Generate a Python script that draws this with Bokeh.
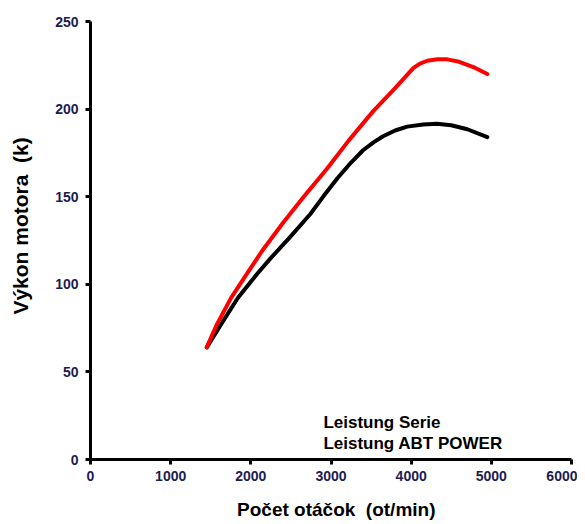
from bokeh.plotting import figure
from bokeh.models import Range1d, Label, FixedTicker
from bokeh.embed import file_html
from bokeh.resources import INLINE

rpm_abt = [1450, 1570, 1750, 1950, 2140, 2400, 2660, 2950, 3220, 3530, 3800, 3950, 4030, 4110, 4200, 4330, 4450, 4600, 4800, 4950]
power_abt = [64, 76.5, 92, 106, 119, 135, 150, 166, 182, 199, 212, 219.5, 223.5, 226, 227.6, 228.5, 228.4, 227, 223.5, 220]

rpm_serie = [1450, 1640, 1840, 2080, 2240, 2500, 2740, 2910, 3080, 3250, 3400, 3530, 3650, 3800, 3950, 4150, 4320, 4500, 4700, 4950]
power_serie = [64, 78, 92.3, 106, 114.5, 127.5, 140, 150.5, 160.5, 169.5, 176.5, 181, 184.5, 187.8, 190, 191.2, 191.6, 190.8, 188.5, 184]

x_ticks = [0, 1000, 2000, 3000, 4000, 5000, 6000]
y_ticks = [0, 50, 100, 150, 200, 250]

legend_labels = ["Leistung Serie", "Leistung ABT POWER"]
NB = "\u00a0"
x_title = "Počet otáčok  (ot/min)"
y_title = "Výkon motora  (k)"

FONT = "Liberation Sans"

p = figure(width=577, height=524, output_backend="svg", toolbar_location=None,
           x_range=Range1d(0, 6000), y_range=Range1d(0, 250),
           min_border_left=90, min_border_top=21, min_border_right=6, min_border_bottom=65)
p.outline_line_color = None
p.xgrid.visible = False
p.ygrid.visible = False

p.line(rpm_serie, power_serie, line_color="black", line_width=4, line_join="round", line_cap="round")
p.line(rpm_abt, power_abt, line_color="#ff0000", line_width=4, line_join="round", line_cap="round")

for ax, ticks in ((p.xaxis[0], x_ticks), (p.yaxis[0], y_ticks)):
    ax.ticker = FixedTicker(ticks=ticks)
    ax.axis_line_width = 3
    ax.axis_line_color = "black"
    ax.major_tick_line_width = 3
    ax.major_tick_out = 5
    ax.major_tick_in = 0
    ax.minor_tick_line_color = None
    ax.major_label_text_font = FONT
    ax.major_label_text_font_style = "bold"
    ax.major_label_text_font_size = "14px"
    ax.major_label_text_color = "#1c1c50"
    ax.axis_label_text_font = FONT
    ax.axis_label_text_font_style = "bold"
    ax.axis_label_text_color = "black"

p.xaxis.axis_label = NB * 2 + x_title.replace("  ", NB * 2)
p.yaxis.axis_label = NB * 5 + y_title.replace("  ", NB * 2)
p.xaxis.axis_label_text_font_size = "19px"
p.yaxis.axis_label_text_font_size = "21px"
p.xaxis.major_label_standoff = 6
p.yaxis.major_label_standoff = 7
p.xaxis.axis_label_standoff = 15
p.yaxis.axis_label_standoff = 20

for i, txt in enumerate(legend_labels):
    p.add_layout(Label(x=2905, y=[21, 9][i], text=txt, text_font=FONT,
                       text_font_style="bold", text_font_size="17px",
                       text_color="black", text_baseline="alphabetic"))

open("out.html", "w").write(file_html(p, INLINE))
